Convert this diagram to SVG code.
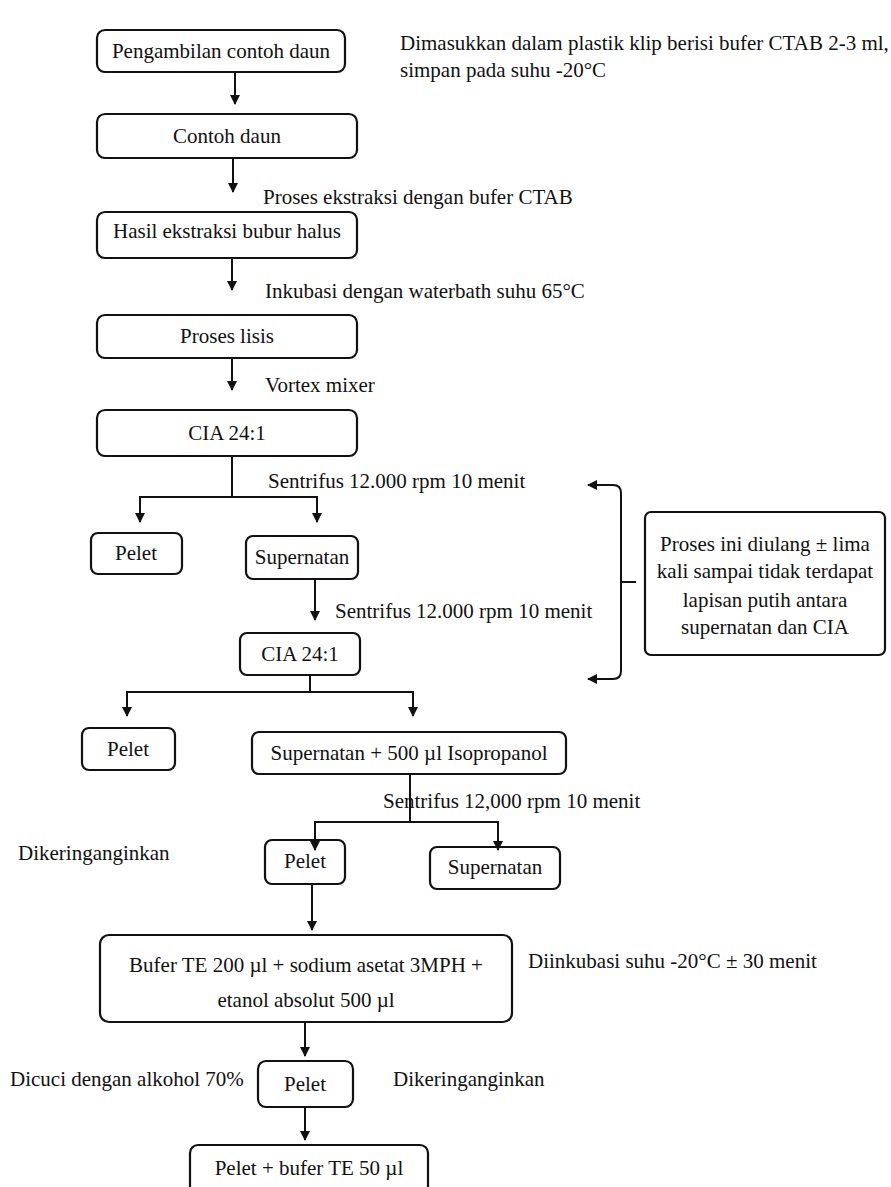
<svg xmlns="http://www.w3.org/2000/svg" width="891" height="1187" viewBox="0 0 891 1187">
<defs>
<style>
.box{fill:#fff;stroke:#111;stroke-width:2.2}
.t{font-family:"Liberation Serif","Times New Roman",serif;font-size:21px;fill:#111}
.c{text-anchor:middle}
.ln{fill:none;stroke:#111;stroke-width:2}
</style>
<marker id="ah" viewBox="0 0 10 10" refX="9" refY="5" markerWidth="5" markerHeight="5" orient="auto-start-reverse" markerUnits="strokeWidth">
<path d="M0,0 L10,5 L0,10 z" fill="#111"/>
</marker>
</defs>
<rect width="891" height="1187" fill="#fff"/>

<g id="n1"><rect class="box" x="97" y="30" width="248" height="42" rx="8"/><text class="t c" x="221" y="58">Pengambilan contoh daun</text></g>
<g id="note1"><text class="t" x="400" y="50">Dimasukkan dalam plastik klip berisi bufer CTAB 2-3 ml,</text><text class="t" x="400" y="77">simpan pada suhu -20°C</text></g>
<g id="n2"><rect class="box" x="97" y="114" width="260" height="44" rx="8"/><text class="t c" x="227" y="143">Contoh daun</text></g>
<g id="n3"><rect class="box" x="97" y="212" width="260" height="46" rx="8"/><text class="t c" x="227" y="238">Hasil ekstraksi bubur halus</text></g>
<g id="n4"><rect class="box" x="97" y="315" width="260" height="43" rx="8"/><text class="t c" x="227" y="343">Proses lisis</text></g>
<g id="n5"><rect class="box" x="97" y="410" width="260" height="46" rx="8"/><text class="t c" x="227" y="440">CIA 24:1</text></g>
<g id="n6"><rect class="box" x="91" y="533" width="91" height="41" rx="7"/><text class="t c" x="136" y="560">Pelet</text></g>
<g id="n7"><rect class="box" x="246" y="536" width="112" height="43" rx="7"/><text class="t c" x="302" y="564">Supernatan</text></g>
<g id="n8"><rect class="box" x="240" y="633" width="120" height="42" rx="7"/><text class="t c" x="300" y="661">CIA 24:1</text></g>
<g id="n9"><rect class="box" x="82" y="728" width="93" height="42" rx="7"/><text class="t c" x="128" y="756">Pelet</text></g>
<g id="n10"><rect class="box" x="252" y="732" width="314" height="42" rx="7"/><text class="t c" x="409" y="760">Supernatan + 500 µl Isopropanol</text></g>
<g id="n11"><rect class="box" x="265" y="840" width="80" height="44" rx="7"/><text class="t c" x="305" y="868">Pelet</text></g>
<g id="n12"><rect class="box" x="430" y="847" width="130" height="42" rx="7"/><text class="t c" x="495" y="874">Supernatan</text></g>
<g id="n13"><rect class="box" x="100" y="935" width="412" height="87" rx="9"/><text class="t c" x="306" y="972">Bufer TE 200 µl + sodium asetat 3MPH +</text><text class="t c" x="306" y="1007">etanol absolut 500 µl</text></g>
<g id="n14"><rect class="box" x="258" y="1061" width="95" height="46" rx="8"/><text class="t c" x="305" y="1091">Pelet</text></g>
<g id="n15"><rect class="box" x="190" y="1145" width="238" height="50" rx="8"/><text class="t c" x="309" y="1175">Pelet + bufer TE 50 µl</text></g>
<g id="note2"><rect class="box" x="645" y="512" width="240" height="143" rx="6"/><text class="t c" x="765" y="551">Proses ini diulang ± lima</text><text class="t c" x="765" y="578">kali sampai tidak terdapat</text><text class="t c" x="765" y="607">lapisan putih antara</text><text class="t c" x="765" y="634">supernatan dan CIA</text></g>

<g id="labels">
<text class="t" x="263" y="204">Proses ekstraksi dengan bufer CTAB</text>
<text class="t" x="265" y="298">Inkubasi dengan waterbath suhu 65°C</text>
<text class="t" x="265" y="392">Vortex mixer</text>
<text class="t" x="268" y="488">Sentrifus 12.000 rpm 10 menit</text>
<text class="t" x="335" y="618">Sentrifus 12.000 rpm 10 menit</text>
<text class="t" x="383" y="808">Sentrifus 12,000 rpm 10 menit</text>
<text class="t" x="18" y="860">Dikeringanginkan</text>
<text class="t" x="528" y="968">Diinkubasi suhu -20°C ± 30 menit</text>
<text class="t" x="10" y="1086">Dicuci dengan alkohol 70%</text>
<text class="t" x="393" y="1086">Dikeringanginkan</text>
</g>

<g id="connectors">
<line class="ln" x1="235" y1="72" x2="235" y2="104" marker-end="url(#ah)"/>
<line class="ln" x1="233" y1="158" x2="233" y2="192" marker-end="url(#ah)"/>
<line class="ln" x1="232" y1="258" x2="232" y2="290" marker-end="url(#ah)"/>
<line class="ln" x1="232" y1="358" x2="232" y2="390" marker-end="url(#ah)"/>
<polyline class="ln" points="232,456 232,497"/>
<polyline class="ln" points="140,522 140,497 317,497 317,522" marker-start="url(#ah)" marker-end="url(#ah)"/>
<line class="ln" x1="315" y1="579" x2="315" y2="620" marker-end="url(#ah)"/>
<polyline class="ln" points="310,675 310,692"/>
<polyline class="ln" points="127,716 127,692 413,692 413,716" marker-start="url(#ah)" marker-end="url(#ah)"/>
<polyline class="ln" points="410,774 410,822"/>
<polyline class="ln" points="315,850 315,822 498,822 498,850" marker-start="url(#ah)" marker-end="url(#ah)"/>
<line class="ln" x1="312" y1="884" x2="312" y2="930" marker-end="url(#ah)"/>
<line class="ln" x1="305" y1="1022" x2="305" y2="1056" marker-end="url(#ah)"/>
<line class="ln" x1="305" y1="1107" x2="305" y2="1140" marker-end="url(#ah)"/>
<path class="ln" d="M588,485 L613,485 Q621,485 621,493 L621,671 Q621,679 613,679 L588,679" marker-start="url(#ah)" marker-end="url(#ah)"/>
<line class="ln" x1="621" y1="582" x2="636" y2="582"/>
</g>
</svg>
